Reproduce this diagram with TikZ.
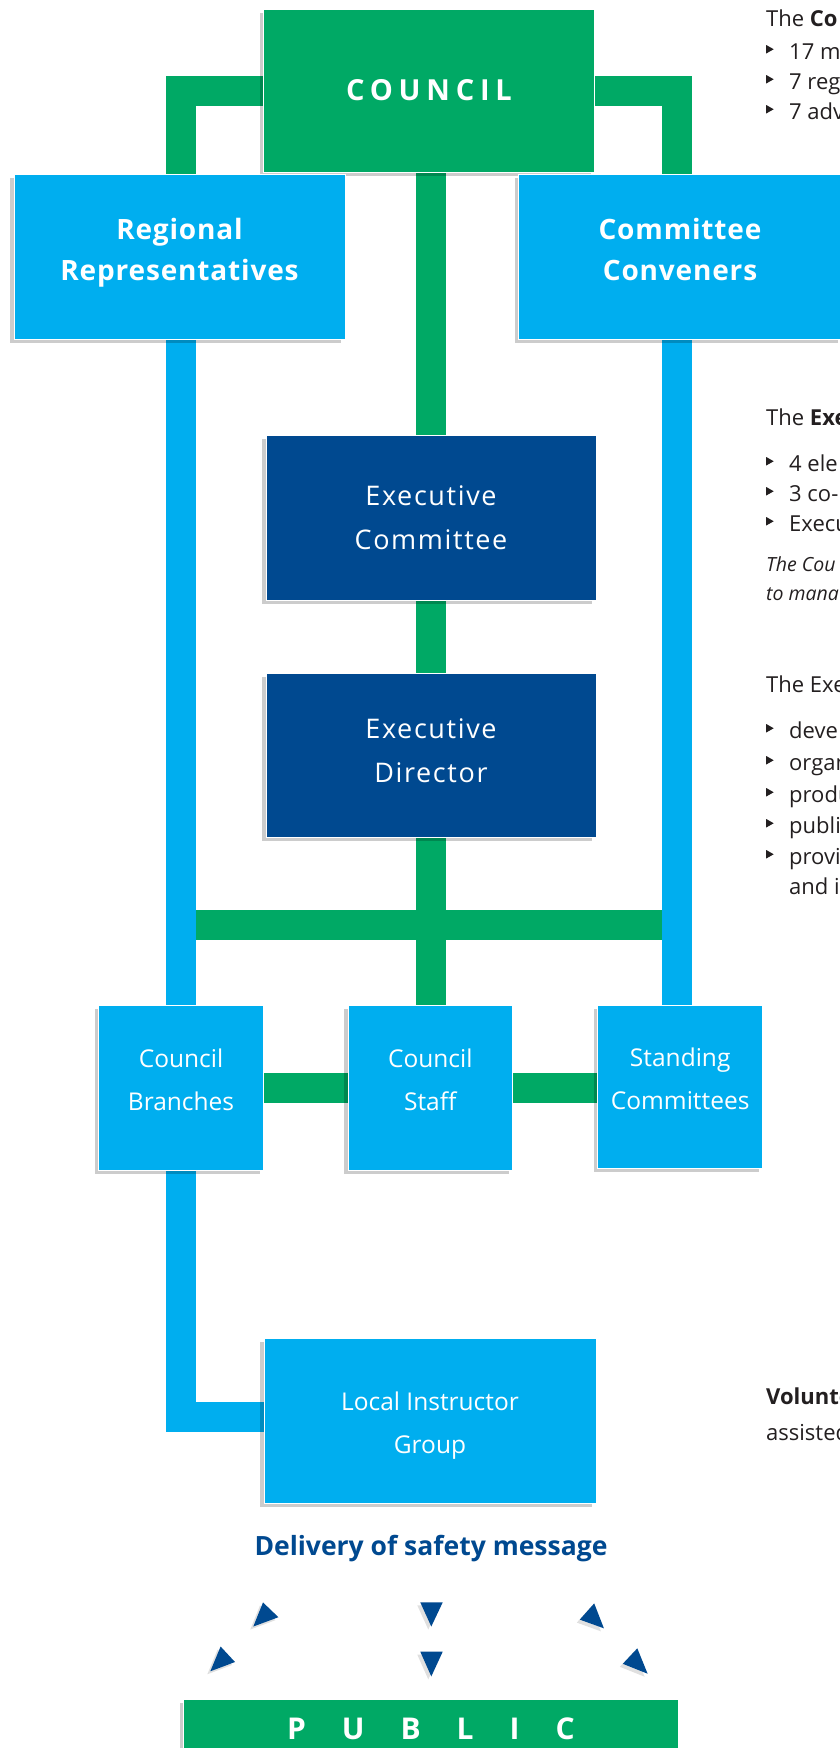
\documentclass[tikz,border=0pt]{standalone}
\usepackage{fontspec}
\setmainfont{Open Sans}
\usetikzlibrary{shadows,calc}
\definecolor{cgreen}{HTML}{00A965}
\definecolor{cblue}{HTML}{00AEEF}
\definecolor{cnavy}{HTML}{004990}
\definecolor{ctext}{HTML}{231F20}
\pgfdeclarelayer{back}
\pgfdeclarelayer{bg}
\pgfsetlayers{back,bg,main}
\newcommand\bul{\makebox[23pt][l]{\tikz[baseline=0pt]\fill[ctext] (0pt,5.5pt) -- (0pt,14pt) -- (7.5pt,9.75pt) -- cycle;}}
\begin{document}
\begin{tikzpicture}[x=1pt,y=-1pt,
  gline/.style={draw=cgreen,line width=30pt},
  bline/.style={draw=cblue,line width=30pt},
  lshadow/.style={preaction={draw=black,opacity=0.10,transform canvas={xshift=-3pt,yshift=-3pt}}},
  boxbase/.style={draw=white,line width=1pt,inner sep=0pt,align=center,text=white,
    drop shadow={shadow xshift=-4pt,shadow yshift=-4pt,opacity=0.2,fill=black}},
  greenbox/.style={boxbase,fill=cgreen},
  bluebox/.style={boxbase,fill=cblue},
  navybox/.style={boxbase,fill=cnavy},
  bigbold/.style={font=\bfseries\fontsize{28}{41}\selectfont\addfontfeature{LetterSpace=3}},
  execfont/.style={font=\fontsize{27}{43.5}\selectfont\addfontfeature{LetterSpace=6}},
  smallfont/.style={font=\fontsize{24.5}{43}\selectfont},
  rt/.style={anchor=base west,inner sep=0pt,text=ctext,font=\fontsize{22}{32}\selectfont},
  itx/.style={anchor=base west,inner sep=0pt,text=ctext,font=\itshape\fontsize{19.5}{28}\selectfont},
  tri/.style={fill=cnavy,drop shadow={shadow xshift=-3pt,shadow yshift=-3pt,opacity=0.12,fill=black}}
]
\useasboundingbox (0,0) rectangle (840,1748);
\clip (0,0) rectangle (840,1748);
\begin{pgfonlayer}{back}
\fill[white] (0,0) rectangle (840,1748);
\end{pgfonlayer}

% boxes
\path
  node[greenbox,minimum width=331pt,minimum height=163pt,
       font=\bfseries\fontsize{29}{36}\selectfont\addfontfeature{LetterSpace=20}] (council) at (429,90.5) {COUNCIL}
  node[bluebox,bigbold,minimum width=331pt,minimum height=165pt,text height=62.3pt,text depth=14pt] (rr) at (179.5,256.5) {Regional\\Representatives}
  node[bluebox,bigbold,minimum width=323pt,minimum height=165pt,text height=62.3pt,text depth=14pt] (cc) at (680,256.5) {Committee\\Conveners}
  node[navybox,execfont,minimum width=330pt,minimum height=165pt] (ec) at (431,517.5) {Executive\\Committee}
  node[navybox,execfont,minimum width=330pt,minimum height=164pt,text height=64pt,text depth=10pt] (ed) at (431,755) {Executive\\Director}
  node[bluebox,smallfont,minimum width=165pt,minimum height=165pt,text height=61.6pt,text depth=16pt] (cb) at (181,1087.5) {Council\\Branches}
  node[bluebox,smallfont,minimum width=164.6pt,minimum height=165pt,text height=61.6pt,text depth=16pt] (cs) at (430.3,1087.5) {Council\\Staff}
  node[bluebox,smallfont,minimum width=165pt,minimum height=163pt,text height=61.6pt,text depth=16pt] (sc) at (680.2,1086.5) {Standing\\Committees}
  node[bluebox,smallfont,minimum width=332pt,minimum height=165pt,text height=71.7pt,text depth=5.9pt] (lig) at (430,1420.5) {Local Instructor\\Group}
  node[greenbox,minimum width=494.3pt,minimum height=59.2pt,font=\bfseries\fontsize{30}{36}\selectfont] (pub) at (430.85,1728.6)
     {P\hspace{36pt}U\hspace{36pt}B\hspace{36pt}L\hspace{36pt}I\hspace{36pt}C};

\node[anchor=base,inner sep=0pt,text=cnavy,font=\bfseries\fontsize{26.5}{30}\selectfont] (dsm) at (431,1555) {Delivery of safety message};

% helper coordinates
\coordinate (jl) at (181,924.5);
\coordinate (jr) at (677,924.5);
\coordinate (rcol) at (677,0);
\coordinate (lcol) at (181,0);

% connectors beneath the boxes
\begin{pgfonlayer}{bg}
\draw[gline,lshadow] (council.west) -| (rr.north -| lcol);
\draw[gline,lshadow] (council.east) -| (cc.north -| rcol);
\draw[gline,lshadow] (council.south -| ec.north) -- (ec.north);
\draw[gline,lshadow] (ec.south) -- (ed.north);
\draw[gline,lshadow] (ed.south) -- (ed.south |- cs.north);
\draw[gline,lshadow] (jl) -- (jr);
\draw[gline,lshadow] (cb.east) -- (cs.west);
\draw[gline,lshadow] (cs.east) -- (cs.east -| sc.west);
\draw[bline,lshadow] (rr.south -| cb.north) -- (cb.north);
\draw[bline,lshadow] (cc.south -| rcol) -- (sc.north -| rcol);
\draw[bline,lshadow] (cb.south) |- ([yshift=4pt]lig.west);
\end{pgfonlayer}

% arrowheads towards the public
\fill[tri] (263,1602.4) -- (278.4,1617.2) -- (253.3,1626.5) -- cycle;
\fill[tri] (220.6,1646.5) -- (235,1662) -- (210.3,1671.3) -- cycle;
\fill[tri] (420.3,1602.4) -- (442.7,1602.4) -- (431.3,1626.5) -- cycle;
\fill[tri] (420.3,1651.7) -- (442.7,1651.7) -- (431.3,1676.4) -- cycle;
\fill[tri] (594.2,1603.4) -- (579.8,1619.6) -- (603.9,1628.3) -- cycle;
\fill[tri] (637.3,1648.3) -- (622.8,1663.8) -- (647.6,1673.7) -- cycle;

% right-hand text column (cut at the page edge)
\node[rt] (t1) at (766,26) {The \textbf{Co}};
\node[rt] (t2) at (766,59) {\bul 17 m};
\node[rt] (t3) at (766,89) {\bul 7 reg};
\node[rt] (t4) at (766,119) {\bul 7 adv};
\node[rt] (t5) at (766,425) {The \textbf{Exe}};
\node[rt] (t6) at (766,471) {\bul 4 ele};
\node[rt] (t7) at (766,501) {\bul 3 co-};
\node[rt] (t8) at (766,531) {\bul Execu};
\node[itx] (t9) at (766,571) {The Cou};
\node[itx] (t10) at (766,600) {to mana};
\node[rt] (t11) at (766,692) {The Exe};
\node[rt] (t12) at (766,738) {\bul deve};
\node[rt] (t13) at (766,770) {\bul organ};
\node[rt] (t14) at (766,802) {\bul produ};
\node[rt] (t15) at (766,833) {\bul publi};
\node[rt] (t16) at (766,864) {\bul provi};
\node[rt] (t17) at (789,894) {and i};
\node[rt] (t18) at (766,1404) {\textbf{Volunte}};
\node[rt] (t19) at (766,1440) {assisted};
\end{tikzpicture}
\end{document}
